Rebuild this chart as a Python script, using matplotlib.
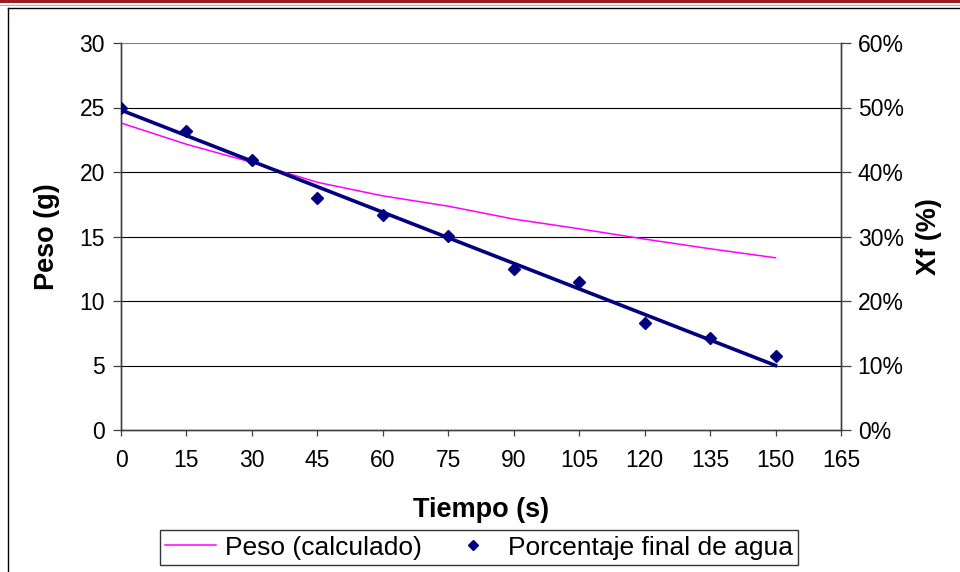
import matplotlib.pyplot as plt
from matplotlib.lines import Line2D
from matplotlib.ticker import FuncFormatter

plt.rcParams['font.family'] = ['Liberation Sans', 'DejaVu Sans']

# tiempos (s)
tiempo = [0, 15, 30, 45, 60, 75, 90, 105, 120, 135, 150]
# peso calculado (g) - eje izquierdo
peso_calc = [23.8, 22.15, 20.75, 19.2, 18.15, 17.35, 16.35, 15.6, 14.8, 14.05, 13.35]
# porcentaje final de agua (%) - eje derecho
xf_pct = [50.0, 46.4, 41.8, 36.0, 33.3, 30.1, 24.9, 23.0, 16.6, 14.2, 11.4]
# linea de tendencia de Xf
tend_t = [0, 150]
tend_pct = [49.6, 10.0]

x_ticks = list(range(0, 166, 15))
peso_ticks = [0, 5, 10, 15, 20, 25, 30]
xf_ticks = [0, 10, 20, 30, 40, 50, 60]

fig = plt.figure(figsize=(9.6, 5.72), dpi=100)
ax = fig.add_axes([121 / 960, 1 - 430 / 572, (841 - 121) / 960, (430 - 43) / 572])
ax2 = ax.twinx()

ax.plot(tiempo, peso_calc, color='#FF00FF', lw=1.1, zorder=3)
ax2.plot(tend_t, tend_pct, color='#000080', lw=2.6, zorder=3)
ax2.plot(tiempo, xf_pct, ls='none', marker='D', ms=6.2, color='#000080', zorder=4)

ax.set_xlim(0, 165)
ax.set_ylim(0, 30)
ax2.set_ylim(0, 60)
ax.set_xticks(x_ticks)
ax.set_yticks(peso_ticks)
ax2.set_yticks(xf_ticks)
ax2.yaxis.set_major_formatter(FuncFormatter(lambda v, p: '%d%%' % v))

for v in peso_ticks[1:]:
    ax.axhline(v, color='black' if v < 30 else '#808080', lw=0.8, zorder=1)

for a in (ax, ax2):
    a.spines['top'].set_visible(False)
    for s in a.spines.values():
        s.set_color('#404040')
        s.set_linewidth(1.0)
ax.tick_params(axis='y', direction='out', length=5.5, width=0.9, color='#404040',
               labelsize=16.5, pad=6)
ax.tick_params(axis='x', direction='out', length=4.5, width=0.9, color='#404040',
               labelsize=16.5, pad=9)
ax2.tick_params(axis='y', direction='out', length=7, width=0.9, color='#404040',
                labelsize=16.5, pad=5)

ax.set_xlabel('Tiempo (s)', fontsize=19.5, fontweight='bold')
ax.xaxis.set_label_coords(0.5, (430 - 510) / 387)
ax.xaxis.label.set_va('center')
ax.set_ylabel('Peso (g)', fontsize=19.5, fontweight='bold')
ax.yaxis.set_label_coords((47 - 121) / 720, 0.5)
ax.yaxis.label.set_va('center')
ax2.set_ylabel('Xf (%)', fontsize=19.5, fontweight='bold')
ax2.yaxis.set_label_coords((929 - 121) / 720, 0.5)
ax2.yaxis.label.set_va('center')

handles = [Line2D([], [], color='#FF00FF', lw=1.1),
           Line2D([], [], ls='none', marker='D', ms=5, color='#000080')]
leg = fig.legend(handles, ['Peso (calculado)', 'Porcentaje final de agua'],
                 loc='center', bbox_to_anchor=(479 / 960, 1 - 547.5 / 572), ncol=2,
                 fontsize=19, frameon=True, fancybox=False, edgecolor='black',
                 handlelength=1.9, handletextpad=0.35, columnspacing=1.0,
                 borderpad=0.2, borderaxespad=0)
leg.get_frame().set_linewidth(1.0)

# marco y banda superior
fig.add_artist(plt.Rectangle((0, 1 - 3 / 572), 1, 3 / 572, transform=fig.transFigure,
                             color='#9B1B24', lw=0))
fig.add_artist(Line2D([0, 1], [1 - 5 / 572] * 2, transform=fig.transFigure,
                      color='#B0B0B0', lw=0.8))
fig.add_artist(Line2D([8 / 960, 1], [1 - 7.5 / 572] * 2, transform=fig.transFigure,
                      color='black', lw=1.0))
fig.add_artist(Line2D([8 / 960] * 2, [0, 1 - 7.5 / 572], transform=fig.transFigure,
                      color='black', lw=1.0))

fig.savefig('out.png', dpi=100)
